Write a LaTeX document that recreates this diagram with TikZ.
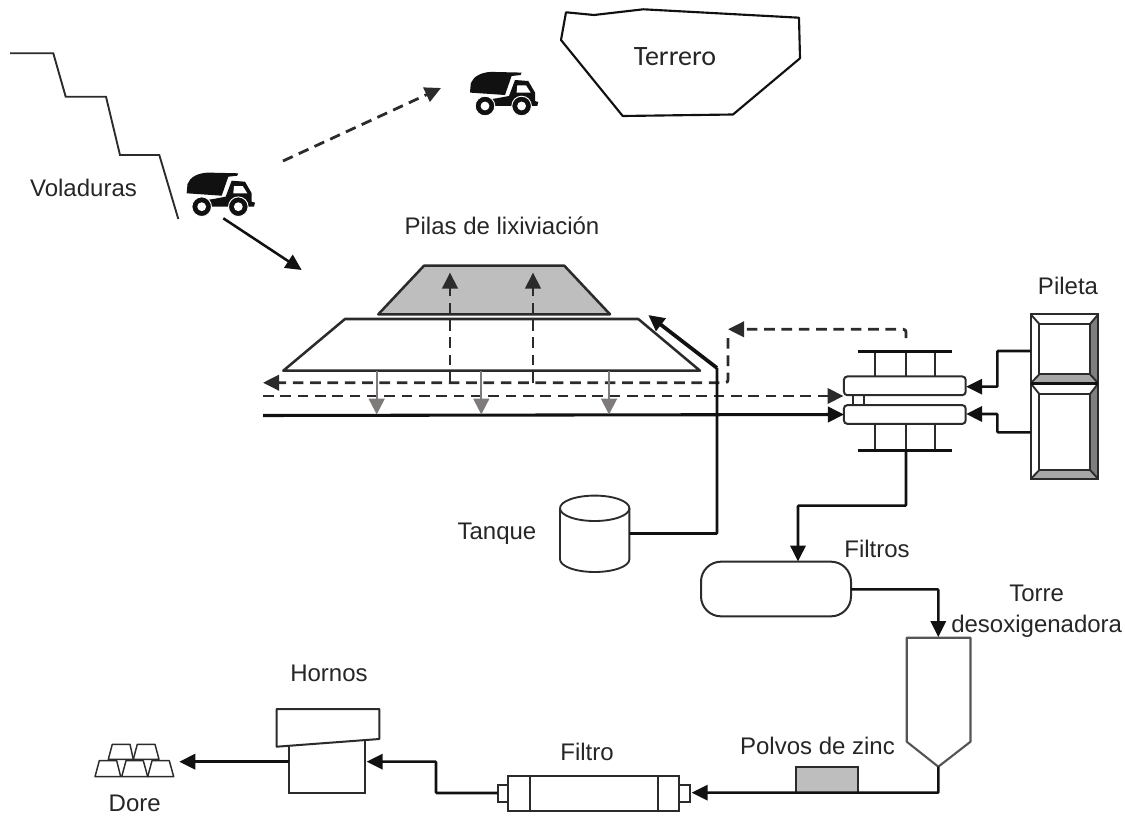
\documentclass[tikz,border=0pt]{standalone}
\usepackage{fontspec}
\setmainfont{Liberation Sans}
\newfontfamily\lxcalibri{Carlito}
\usetikzlibrary{arrows.meta}
\usetikzlibrary{positioning}
\definecolor{lxink}{HTML}{111111}
\definecolor{lxtext}{HTML}{262626}
\definecolor{lxline}{HTML}{2B2B2B}
\definecolor{lxfill}{HTML}{BEBEBE}
\definecolor{lxdrop}{HTML}{7F7B7B}
\definecolor{lxbevel}{HTML}{A6A6A6}
\definecolor{lxshade}{HTML}{7F7F7F}
\tikzset{
  lxlabel/.style={font=\fontsize{18}{21}\selectfont, text=lxtext, align=center},
  lxpipe/.style={draw=lxink, line width=1.9pt, rounded corners=0.6pt},
  lxarrow/.style={lxpipe, -{Triangle[length=12pt, width=11.5pt]}},
  lxdash/.style={lxarrow, draw=lxline, line width=2.1pt, dash pattern=on 8pt off 5pt},
  lxdrip/.style={draw=lxdrop, line width=1.5pt,
    -{Triangle[length=12pt, width=12pt]}},
  lxshell/.style={draw=lxline, fill=white, line width=1.5pt, inner sep=0pt,
    outer sep=0pt},
  lxplate/.style={lxshell, rounded corners=2.5pt, minimum width=91.3pt,
    minimum height=14pt},
  lxstub/.style={lxshell, minimum width=8pt, minimum height=12.3pt},
  lxbar/.style={draw=lxink, line width=2.4pt},
  lxrod/.style={draw=lxline, line width=1.4pt},
  lxingot/.style={draw=lxline, line width=1.1pt, fill=white, line join=round},
  lxedge/.style={draw=lxline, line width=1.9pt, line join=round},
  dumptruck/.pic={
    \fill[lxink] (0.7,23.3) -- (1.5,14) .. controls (4,7) and (12,3) .. (22,2.6)
      -- (52.3,3.3) -- (51.3,5.7) -- (42.3,6.7) -- (35.7,25.7) -- cycle;
    \fill[lxink] (45.7,10.7) -- (59,11.7) -- (65.7,23.3) -- (65.7,31.7)
      -- (69,32.7) -- (68,36.7) -- (10.7,36.7) -- (9,31.7) -- (27.3,29)
      -- (39.7,26.7) -- cycle;
    \fill[white] (48,16) -- (56.7,16) -- (61.3,23.3) -- (47.3,23.3) -- cycle;
    \draw[white, fill=lxink, line width=0.7pt] (15.7,36.7) circle[radius=9.8];
    \draw[white, fill=lxink, line width=0.7pt] (52.3,36.7) circle[radius=9.8];
    \fill[white] (15.7,36.7) circle[radius=4.4];
    \fill[white] (52.3,36.7) circle[radius=4.4];
  },
  every picture/.style={line cap=butt},
}
\begin{document}
\begin{tikzpicture}[x=0.75pt, y=-0.75pt]
\useasboundingbox (0,0) rectangle (1125,817);

% Bench face and waste dump.
\draw[draw=lxline, line width=1.4pt]
  (10,53.3) -- (53.3,53.3) -- (65.7,96.7) -- (106,96.7) -- (120,155)
  -- (159.3,155) -- (178.3,219);
\node[lxlabel] (voladuras) at (83.5,188) {Voladuras};
\draw[draw=lxink, line width=1.6pt, line join=round]
  (566,12.3) -- (594,15) -- (643.3,9.3) -- (799,17.7) -- (800,58.3)
  -- (733,114.5) -- (622.7,116) -- (561,40) -- cycle;
\node[lxlabel, font=\lxcalibri\fontsize{21}{25}\selectfont] (terrero) at (675,57)
  {Terrero};

% Trucks.
\pic (truckbench) at (186,170) {dumptruck};
\pic (truckdump) at (469.3,69.3) {dumptruck};
\coordinate (benchout) at (223.3,218.3);
\coordinate (heapin) at (301.7,270);
\draw[lxarrow] (benchout) -- (heapin);
\coordinate (dumpout) at (283,161);
\coordinate (dumpin) at (441,88);
\draw[lxdash] (dumpout) -- (dumpin);

% Leach pads.
\node[lxlabel] (pilas) at (502,226) {Pilas de lixiviación};
\draw[lxedge, fill=lxfill] (378.3,314.3) -- (424,265.7) -- (564.3,265.7)
  -- (610,314.3) -- cycle;
\draw[lxedge] (283.3,370.7) -- (345,319) -- (638.3,319) -- (700,370.7) -- cycle;

% Exchanger.
\node[lxplate] (plateup) at (904.8,385.8) {};
\node[lxplate] (platedown) at (904.8,414.5) {};
\draw[lxrod] (853.3,395) -- (853.3,405);
\draw[lxrod] (864.3,395) -- (864.3,405);
\coordinate (bartopl) at (858.3,351.7);
\coordinate (bartopr) at (951.7,351.7);
\coordinate (barlowl) at (858.3,450.3);
\coordinate (barlowr) at (951.7,450.3);
\draw[lxrod] (875.3,351.7) -- (875.3,376.7);
\draw[lxrod] (906,351.7) -- (906,376.7);
\draw[lxrod] (935.3,351.7) -- (935.3,376.7);
\draw[lxrod] (875.3,424) -- (875.3,450.3);
\draw[lxrod] (906,424) -- (906,450.3);
\draw[lxrod] (935.3,424) -- (935.3,450.3);
\draw[lxbar] (bartopl) -- (bartopr);
\draw[lxbar] (barlowl) -- (barlowr);

% Leach solution lines.
\coordinate (linebarren) at (263,396);
\coordinate (platebarren) at (843.5,396);
\coordinate (linerich) at (263,415.5);
\draw[lxdash] (linebarren) -- (platebarren);
\draw[lxarrow, line width=2.3pt] (linerich) -- (platedown.west);
\coordinate (retstart) at (906,338);
\coordinate (retcorner) at (906,329.3);
\coordinate (rettip) at (728,329.3);
\draw[lxdash, rounded corners=2pt] (retstart) -- (retcorner) -- (rettip);
\coordinate (backstart) at (728,338);
\coordinate (backcorner) at (728,382.7);
\coordinate (backtip) at (263,382.7);
\draw[lxdash, rounded corners=2pt] (backstart) -- (backcorner) -- (backtip);
\coordinate (riseone) at (450,382.7);
\coordinate (risetwo) at (533,382.7);
\coordinate (topone) at (450,272.5);
\coordinate (toptwo) at (533,272.5);
\draw[lxdash] (riseone) -- (topone);
\draw[lxdash] (risetwo) -- (toptwo);

% Percolation.
\draw[lxdrip] (376.7,370.7) -- (376.7,414.5);
\draw[lxdrip] (481.3,370.7) -- (481.3,414.5);
\draw[lxdrip] (609,370.7) -- (609,414.5);

% Tank.
\node[inner sep=0pt, outer sep=0pt, minimum width=52pt, minimum height=57.5pt]
  (tanque) at (594.7,533.5) {};
\draw[lxrod, fill=white] (560,508.3) -- (560,559.3)
  arc[start angle=180, end angle=0, x radius=34.7, y radius=12.7]
  -- (629.4,508.3);
\draw[lxrod] (594.7,508.3) ellipse[x radius=34.7, y radius=12.7];
\node[lxlabel, anchor=east] (tanquetext) at (541,534) {Tanque};
\coordinate (tankelbow) at (717,533.5);
\coordinate (tankrise) at (717,368);
\coordinate (tanktip) at (648.3,315);
\draw[lxpipe] (tanque.east) -- (tankelbow) -- (tankrise);
\draw[lxarrow, line width=2.8pt] (tankrise) -- (tanktip);

% Pool.
\node[lxshell, minimum width=50.7pt, minimum height=123.5pt] (pileta)
  at (1064.5,396.7) {};
\fill[lxshade] (1098.3,314.3) -- (1090,324) -- (1090,374.3) -- (1098.3,383.3) -- cycle;
\fill[lxshade] (1098.3,383.3) -- (1090,394) -- (1090,470) -- (1098.3,479) -- cycle;
\fill[lxbevel] (1030.7,383.3) -- (1039.3,374.3) -- (1090,374.3) -- (1098.3,383.3) -- cycle;
\fill[lxbevel] (1030.7,479) -- (1039.3,470) -- (1090,470) -- (1098.3,479) -- cycle;
\draw[lxrod] (pileta.north west) rectangle (pileta.south east);
\draw[lxrod] (1039.3,324) rectangle (1090,374.3);
\draw[lxrod] (1039.3,394) rectangle (1090,470);
\draw[lxrod] (1030.7,314.3) -- (1039.3,324);
\draw[lxrod] (1098.3,314.3) -- (1090,324);
\draw[lxrod] (1030.7,383.3) -- (1039.3,374.3);
\draw[lxrod] (1098.3,383.3) -- (1090,374.3);
\draw[lxrod] (1030.7,383.3) -- (1039.3,394);
\draw[lxrod] (1098.3,383.3) -- (1090,394);
\draw[lxrod] (1030.7,479) -- (1039.3,470);
\draw[lxrod] (1098.3,479) -- (1090,470);
\draw[lxpipe] (1030.7,383.3) -- (1098.3,383.3);
\node[lxlabel] (piletatext) at (1068,286) {Pileta};
\coordinate (poolup) at (1030.7,351);
\coordinate (poolupk) at (997.3,351);
\coordinate (poolupj) at (997.3,386.7);
\coordinate (pooluptip) at (966.2,386.7);
\draw[lxarrow] (poolup) -- (poolupk) -- (poolupj) -- (pooluptip);
\coordinate (poollow) at (1030.7,432.3);
\coordinate (poollowk) at (997.3,432.3);
\coordinate (poollowj) at (997.3,414);
\coordinate (poollowtip) at (966.2,414);
\draw[lxarrow] (poollow) -- (poollowk) -- (poollowj) -- (poollowtip);

% Filters.
\node[lxshell, rounded corners=15pt, minimum width=112.5pt, minimum height=41pt]
  (filtros) at (776,589) {};
\node[lxlabel] (filtrostext) at (877,549) {Filtros};
\coordinate (rich) at (906,450.3);
\coordinate (richk) at (906,505.7);
\coordinate (richj) at (798,505.7);
\coordinate (filtrosin) at (798,561.5);
\draw[lxarrow] (rich) -- (richk) -- (richj) -- (filtrosin);

% Deaerating tower and zinc.
\node[lxlabel] (torretext) at (1036.7,611) {Torre\\[2pt]desoxigenadora};
\draw[lxedge, draw=lxline!80, line width=1.6pt] (906.7,637.7) -- (906.7,741.7)
  -- (938.3,766.7) -- (970.5,741.7) -- (970.5,637.7) -- cycle;
\coordinate (filtrosout) at (851,589.3);
\coordinate (towerk) at (938.3,589.3);
\coordinate (towerin) at (938.3,637);
\draw[lxarrow] (filtrosout) -- (towerk) -- (towerin);
\node[lxshell, fill=lxfill, minimum width=47pt, minimum height=19.3pt]
  (zinc) at (827,779.9) {};
\node[lxlabel] (zinctext) at (817.5,746) {Polvos de zinc};

% Press filter.
\node[lxshell, minimum width=128.3pt, minimum height=26pt] (filtro)
  at (593.8,793.4) {};
\draw[lxrod] (530,776) -- (530,810.7);
\draw[lxrod] (658.3,776) -- (658.3,810.7);
\node[lxstub, left=0pt of filtro] (stubleft) {};
\node[lxstub, right=0pt of filtro] (stubright) {};
\node[lxlabel] (filtrotext) at (587,752) {Filtro};
\coordinate (towerout) at (938.3,766.7);
\coordinate (towerk2) at (938.3,792.7);
\coordinate (filtroin) at (691.7,792.7);
\draw[lxarrow] (towerout) -- (towerk2) -- (filtroin);

% Furnace.
\node[lxshell, minimum width=57.5pt, minimum height=39.5pt] (horno)
  at (327,766.4) {};
\draw[lxedge, fill=white, line width=1.5pt] (276.7,709) -- (379.3,709)
  -- (379.3,739) -- (276.7,746.7) -- cycle;
\node[lxlabel] (hornostext) at (329,673) {Hornos};
\coordinate (filtroout) at (497.7,793);
\coordinate (filtrok) at (436,793);
\coordinate (filtroj) at (436,761.7);
\coordinate (hornoin) at (366.7,761.7);
\draw[lxarrow] (filtroout) -- (filtrok) -- (filtroj) -- (hornoin);

% Dore bars.
\draw[lxingot] (108.3,759.3) -- (112.3,744.3) -- (130,744.3) -- (133.3,759.3) -- cycle;
\draw[lxingot] (133.3,759.3) -- (137.3,744.3) -- (155,744.3) -- (159,759.3) -- cycle;
\draw[lxingot] (95,776.7) -- (99.3,760.7) -- (116.7,760.7) -- (120.7,776.7) -- cycle;
\draw[lxingot] (121.7,776.7) -- (126,760.7) -- (143.3,760.7) -- (147.7,776.7) -- cycle;
\draw[lxingot] (147.7,776.7) -- (152,760.7) -- (169.3,760.7) -- (173.7,776.7) -- cycle;
\node[lxlabel] (dore) at (134.7,803) {Dore};
\coordinate (hornoout) at (288.7,761.7);
\coordinate (dorein) at (179.3,761.7);
\draw[lxarrow] (hornoout) -- (dorein);

\end{tikzpicture}
\end{document}
